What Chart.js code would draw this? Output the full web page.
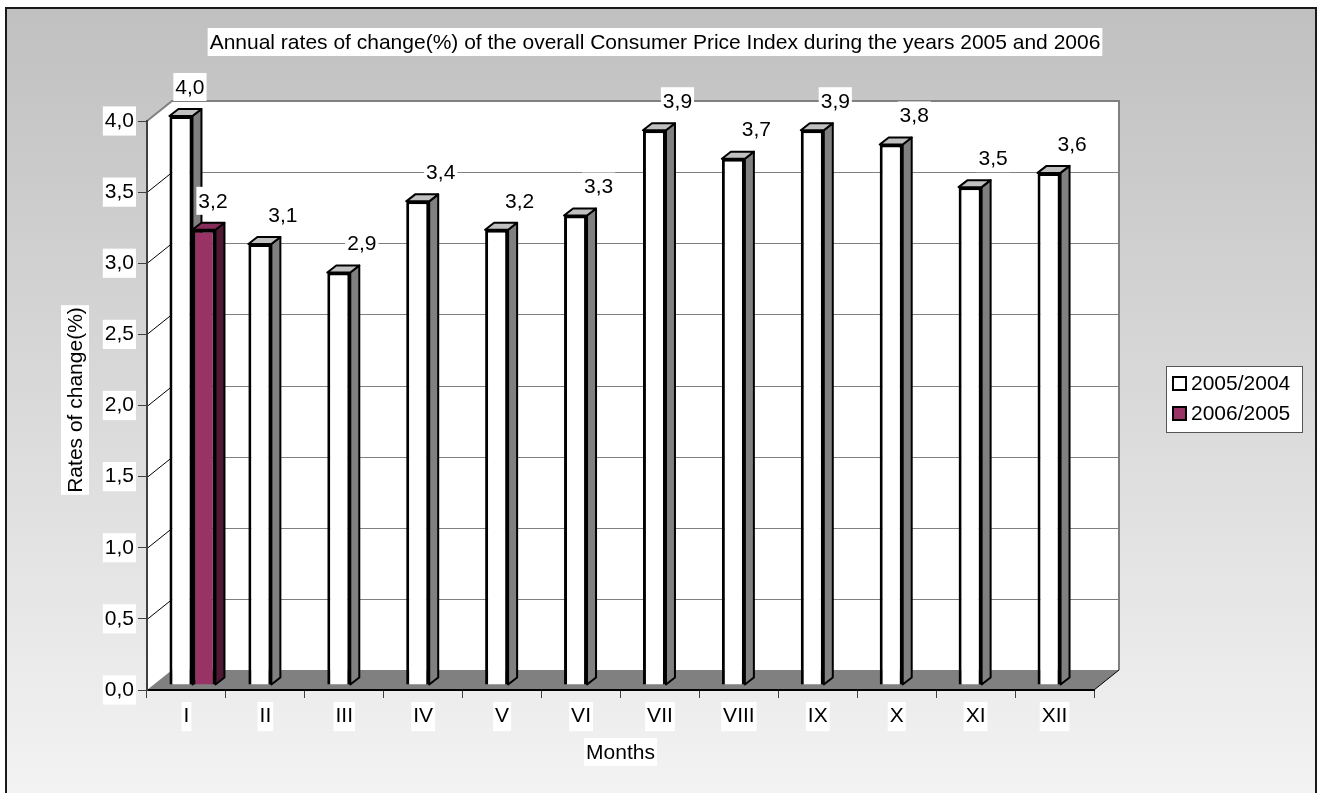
<!DOCTYPE html>
<html>
<head>
<meta charset="utf-8">
<title>Consumer Price Index 2005-2006</title>
<script src="https://cdn.jsdelivr.net/npm/chart.js@4.4.1/dist/chart.umd.min.js"></script>
<style>
  html, body { margin: 0; padding: 0; background: #ffffff; }
  #wrap { width: 1324px; height: 793px; }
</style>
</head>
<body>
<div id="wrap"><canvas id="cpiChart" width="1324" height="793"></canvas></div>
<script>
// chart data
const months = ['I', 'II', 'III', 'IV', 'V', 'VI', 'VII', 'VIII', 'IX', 'X', 'XI', 'XII'];
const rates2005 = [4.0, 3.1, 2.9, 3.4, 3.2, 3.3, 3.9, 3.7, 3.9, 3.8, 3.5, 3.6];
const rates2006 = [3.2, null, null, null, null, null, null, null, null, null, null, null];
const seriesNames = ['2005/2004', '2006/2005'];
const yMin = 0, yMax = 4, yStep = 0.5;

const titleText = 'Annual rates of change(%) of the overall Consumer Price Index during the years 2005 and 2006';
const FONT = '"Liberation Sans", Arial, sans-serif';
const FS = 21;

// fake 3d look
const WALL_DX = 25, WALL_DY = 20;   // depth of the back wall
const SHIFT_X = 6, SHIFT_Y = 5;     // where the bars stand on the floor
const BAR_DX = 9, BAR_DY = 7;       // depth of a bar

const faces = [
    { front: '#ffffff', side: '#808080', top: '#c0c0c0' },
    { front: '#993366', side: '#4d1933', top: '#862d59' }
];

function fmt(v) {
    return Number(v).toFixed(1).replace('.', ',');
}

function textWithBox(ctx, text, x, y, rotate) {
    ctx.save();
    ctx.font = FS + 'px ' + FONT;
    ctx.translate(x, y);
    if (rotate) ctx.rotate(-Math.PI / 2);
    const w = ctx.measureText(text).width;
    ctx.fillStyle = '#ffffff';
    ctx.fillRect(-w / 2 - 2, -14, w + 4, 28);
    ctx.fillStyle = '#000000';
    ctx.textAlign = 'center';
    ctx.textBaseline = 'middle';
    ctx.fillText(text, 0, 1);
    ctx.restore();
}

const excel3d = {
    id: 'excel3d',
    beforeDraw(chart) {
        const ctx = chart.ctx;
        const a = chart.chartArea;
        const y = chart.scales.y;
        ctx.save();
        // page + chart frame
        ctx.fillStyle = '#ffffff';
        ctx.fillRect(0, 0, chart.width, chart.height);
        const g = ctx.createLinearGradient(0, 8, 0, chart.height);
        g.addColorStop(0, '#c0c0c0');
        g.addColorStop(1, '#f3f3f3');
        ctx.fillStyle = g;
        ctx.fillRect(6, 8, 1310, chart.height);
        ctx.strokeStyle = '#1a1a1a';
        ctx.lineWidth = 2;
        ctx.beginPath();
        ctx.moveTo(6, chart.height + 2);
        ctx.lineTo(6, 8);
        ctx.lineTo(1316, 8);
        ctx.lineTo(1316, chart.height + 2);
        ctx.stroke();

        textWithBox(ctx, titleText, 655, 42);

        // walls
        ctx.fillStyle = '#ffffff';
        ctx.beginPath();
        ctx.moveTo(a.left, a.top);
        ctx.lineTo(a.left + WALL_DX, a.top - WALL_DY);
        ctx.lineTo(a.right + WALL_DX, a.top - WALL_DY);
        ctx.lineTo(a.right + WALL_DX, a.bottom - WALL_DY);
        ctx.lineTo(a.left, a.bottom);
        ctx.closePath();
        ctx.fill();

        // gridlines on the back wall and the left wall
        y.ticks.forEach(t => {
            const py = Math.round(y.getPixelForValue(t.value)) + 0.5;
            if (t.value > yMin && t.value < yMax) {
                ctx.strokeStyle = '#808080';
                ctx.lineWidth = 1;
                ctx.beginPath();
                ctx.moveTo(a.left + WALL_DX, py - WALL_DY);
                ctx.lineTo(a.right + WALL_DX, py - WALL_DY);
                ctx.stroke();
                ctx.strokeStyle = '#000000';
                ctx.beginPath();
                ctx.moveTo(a.left, py);
                ctx.lineTo(a.left + WALL_DX, py - WALL_DY);
                ctx.stroke();
            }
        });

        // wall edges
        ctx.strokeStyle = '#808080';
        ctx.lineWidth = 2;
        ctx.beginPath();
        ctx.moveTo(a.left, a.top);
        ctx.lineTo(a.left + WALL_DX, a.top - WALL_DY);
        ctx.lineTo(a.right + WALL_DX, a.top - WALL_DY);
        ctx.lineTo(a.right + WALL_DX, a.bottom - WALL_DY);
        ctx.stroke();

        // floor
        ctx.fillStyle = '#808080';
        ctx.beginPath();
        ctx.moveTo(a.left, a.bottom);
        ctx.lineTo(a.left + WALL_DX, a.bottom - WALL_DY);
        ctx.lineTo(a.right + WALL_DX, a.bottom - WALL_DY);
        ctx.lineTo(a.right, a.bottom);
        ctx.closePath();
        ctx.fill();
        ctx.strokeStyle = '#000000';
        ctx.lineWidth = 1;
        ctx.beginPath();
        ctx.moveTo(a.right, a.bottom);
        ctx.lineTo(a.right + WALL_DX, a.bottom - WALL_DY);
        ctx.stroke();
        ctx.restore();
    },
    beforeDatasetsDraw(chart) {
        const ctx = chart.ctx;
        ctx.save();
        ctx.translate(SHIFT_X, -SHIFT_Y);
        // sides and tops first, the front faces are drawn over them by Chart.js
        chart.data.datasets.forEach((ds, di) => {
            const meta = chart.getDatasetMeta(di);
            meta.data.forEach((bar, i) => {
                if (ds.data[i] == null) return;
                const l = bar.x - bar.width / 2, r = bar.x + bar.width / 2;
                const t = bar.y, b = bar.base;
                ctx.lineWidth = 2;
                ctx.strokeStyle = '#000000';
                ctx.lineJoin = 'round';
                ctx.fillStyle = faces[di].side;
                ctx.beginPath();
                ctx.moveTo(r, t);
                ctx.lineTo(r + BAR_DX, t - BAR_DY);
                ctx.lineTo(r + BAR_DX, b - BAR_DY);
                ctx.lineTo(r, b);
                ctx.closePath();
                ctx.fill();
                ctx.stroke();
                ctx.fillStyle = faces[di].top;
                ctx.beginPath();
                ctx.moveTo(l, t);
                ctx.lineTo(l + BAR_DX, t - BAR_DY);
                ctx.lineTo(r + BAR_DX, t - BAR_DY);
                ctx.lineTo(r, t);
                ctx.closePath();
                ctx.fill();
                ctx.stroke();
            });
        });
    },
    afterDatasetsDraw(chart) {
        const ctx = chart.ctx;
        ctx.restore();
        const xs = chart.scales.x;
        chart.data.datasets.forEach((ds, di) => {
            const meta = chart.getDatasetMeta(di);
            meta.data.forEach((bar, i) => {
                const v = ds.data[i];
                if (v == null) return;
                const both = rates2006[i] != null;
                let lx;
                if (both) lx = bar.x + SHIFT_X + BAR_DX;
                else lx = xs.getPixelForValue(i) + bar.width / 2 + SHIFT_X;
                const ly = bar.y - SHIFT_Y - BAR_DY - 22;
                textWithBox(ctx, fmt(v), lx, ly);
            });
        });
    },
    afterDraw(chart) {
        const ctx = chart.ctx;
        const a = chart.chartArea;
        textWithBox(ctx, 'Rates of change(%)', 75, 400, true);
        textWithBox(ctx, 'Months', (a.left + a.right) / 2 - 0, 752);

        // legend
        ctx.save();
        const lx = 1166, ly = 366, lw = 136, lh = 66;
        ctx.fillStyle = '#ffffff';
        ctx.fillRect(lx, ly, lw, lh);
        ctx.strokeStyle = '#555555';
        ctx.lineWidth = 1;
        ctx.strokeRect(lx + 0.5, ly + 0.5, lw, lh);
        ctx.font = FS + 'px ' + FONT;
        ctx.textBaseline = 'middle';
        seriesNames.forEach((name, k) => {
            const cy = ly + 17 + k * 30;
            ctx.fillStyle = faces[k].front;
            ctx.fillRect(lx + 7, cy - 6, 13, 13);
            ctx.strokeStyle = '#000000';
            ctx.lineWidth = 2;
            ctx.strokeRect(lx + 7, cy - 6, 13, 13);
            ctx.fillStyle = '#000000';
            ctx.fillText(name, lx + 25, cy + 1);
        });
        ctx.restore();
    }
};

const ctx = document.getElementById('cpiChart').getContext('2d');
new Chart(ctx, {
    type: 'bar',
    data: {
        labels: months,
        datasets: [{
            label: seriesNames[0],
            data: rates2005,
            backgroundColor: faces[0].front,
            borderColor: '#000000',
            borderWidth: 3
        }, {
            label: seriesNames[1],
            data: rates2006,
            backgroundColor: faces[1].front,
            borderColor: '#000000',
            borderWidth: 3
        }]
    },
    options: {
        responsive: false,
        animation: false,
        devicePixelRatio: 1,
        layout: {
            padding: { left: 0, top: 121, right: 230, bottom: 43 }
        },
        datasets: {
            bar: {
                categoryPercentage: 0.583,
                barPercentage: 1.0,
                clip: false
            }
        },
        plugins: {
            legend: { display: false },
            title: { display: false },
            tooltip: { enabled: false }
        },
        scales: {
            x: {
                offset: true,
                afterFit: s => { s.height = 60; },
                grid: {
                    offset: true,
                    drawOnChartArea: false,
                    drawTicks: true,
                    tickLength: 8,
                    color: '#404040'
                },
                border: { display: true, color: '#000000', width: 2 },
                ticks: {
                    color: '#000000',
                    padding: 6,
                    font: { family: FONT, size: FS },
                    showLabelBackdrop: true,
                    backdropColor: '#ffffff',
                    backdropPadding: { top: 2, bottom: 2, left: 2, right: 2 }
                }
            },
            y: {
                min: yMin,
                max: yMax,
                afterFit: s => { s.width = 147; },
                grid: {
                    drawOnChartArea: false,
                    drawTicks: true,
                    tickLength: 9,
                    color: '#404040'
                },
                border: { display: true, color: '#404040', width: 2 },
                ticks: {
                    stepSize: yStep,
                    color: '#000000',
                    padding: 4,
                    font: { family: FONT, size: FS },
                    showLabelBackdrop: true,
                    backdropColor: '#ffffff',
                    backdropPadding: 2,
                    callback: v => fmt(v)
                }
            }
        }
    },
    plugins: [excel3d]
});
</script>
</body>
</html>
